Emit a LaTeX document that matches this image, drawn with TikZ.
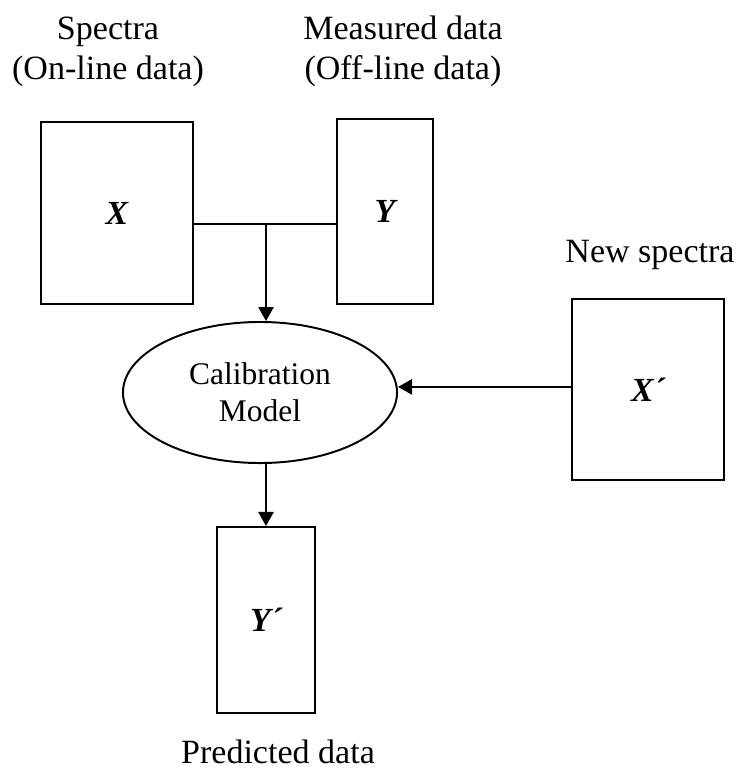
\documentclass[tikz,border=0pt]{standalone}
\usepackage{fontspec}
\setmainfont{Liberation Serif}
\usetikzlibrary{shapes.geometric,arrows.meta}

\tikzset{
  databox/.style={draw, line width=1.4pt, inner sep=0pt,
    font=\fontsize{24}{28}\selectfont\bfseries\itshape},
  calmodel/.style={draw, ellipse, line width=1.4pt, inner sep=0pt, align=center,
    minimum width=6.85cm, minimum height=3.525cm,
    font=\fontsize{22.4}{26.3}\selectfont},
  caption/.style={align=center, inner sep=0pt,
    font=\fontsize{24.2}{28.45}\selectfont},
  arr/.style={line width=1.4pt, -{Triangle[length=0.35cm,width=0.38cm]}},
}

\begin{document}
\begin{tikzpicture}  % ------ calibration scheme ------------------
      [x=0.025cm,y=-0.025cm]
    \useasboundingbox (0,0) rectangle (739,772);
    % data blocks
    \node [databox, minimum width=3.8cm, minimum height=4.55cm] (X) at (117,213) {X};
    \node [databox, minimum width=2.4cm, minimum height=4.625cm] (Y) at (385,211.5) {Y};
    \node [databox, minimum width=3.8cm, minimum height=4.525cm] (Xnew) at (648,389.5) {X´};
    \node [databox, minimum width=2.45cm, minimum height=4.65cm] (Ypred) at (266,620) {Y´};
    \node [calmodel] (cal) at (260,392.5) {Calibration\\Model};
    % captions
    \node [caption, anchor=base] (capX) at (108,79) {Spectra\\(On-line data)};
    \node [caption, anchor=base] (capY) at (403,79) {Measured data\\(Off-line data)};
    \node [caption, anchor=base] (capXnew) at (650,262) {New spectra};
    \node [caption, anchor=base] (capYpred) at (278,763) {Predicted data};
    % connectors
    \coordinate (join) at (266,224);
    \coordinate (calin) at ([yshift=0.14cm]cal.east);
    \draw [line width=1.4pt] (X.east |- join) -- (Y.west |- join);
    \draw [arr] (join) -- (join |- cal.north);
    \draw [arr] (Xnew.west |- calin) -- (calin);
    \draw [arr] (cal.south -| Ypred.north) -- (Ypred.north);
\end{tikzpicture}
\end{document}
